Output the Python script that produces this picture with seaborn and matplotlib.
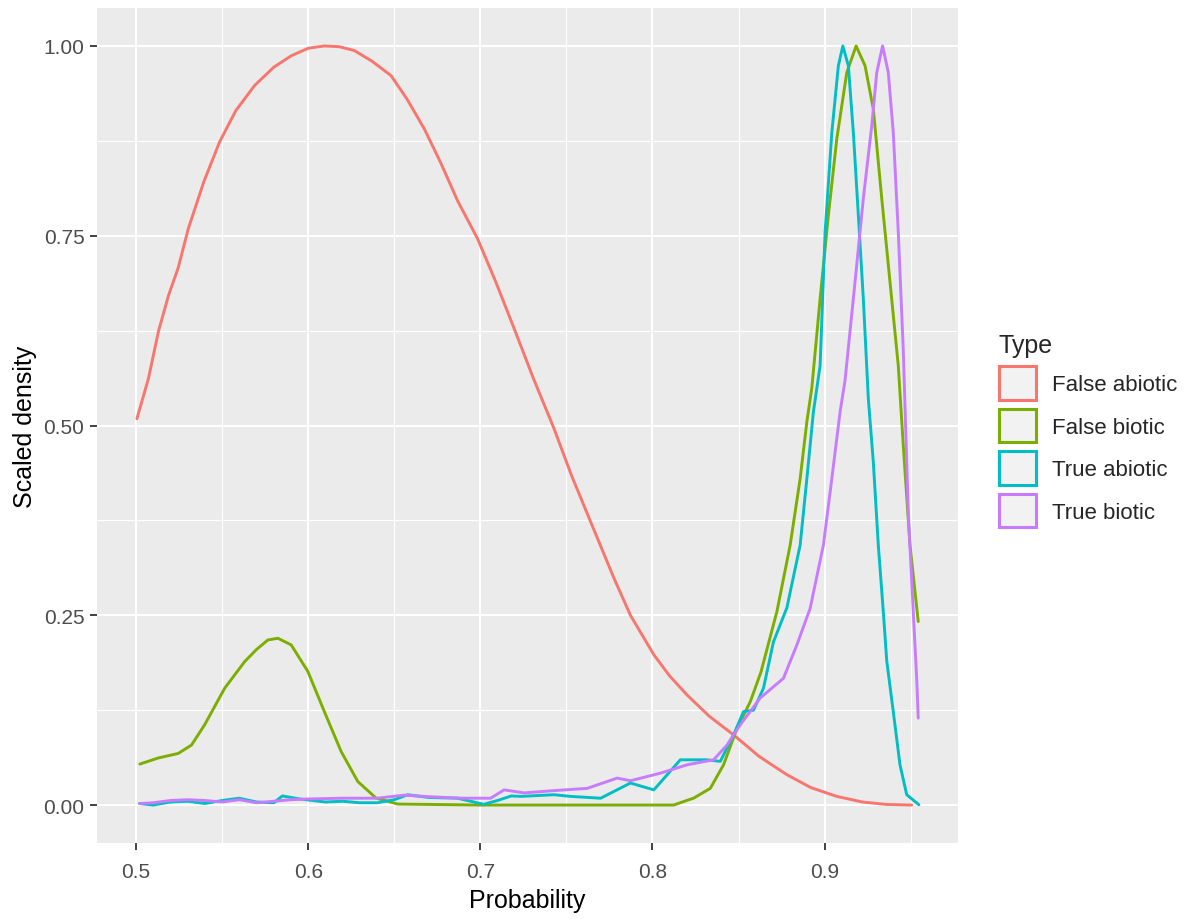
import pandas as pd
import matplotlib.pyplot as plt
import seaborn as sns
from matplotlib.patches import Patch
from matplotlib.ticker import MultipleLocator

# ── Data ─────────────────────────────────────────────────────────────────────
types = ["False abiotic", "False biotic", "True abiotic", "True biotic"]
colors = ["#F8766D", "#7CAE00", "#00BFC4", "#C77CFF"]

false_abiotic_x = [0.5005, 0.5072, 0.513, 0.5188, 0.5245, 0.5303, 0.5395, 0.5486,
                   0.5580, 0.5689, 0.5800, 0.5901, 0.6000, 0.6094, 0.6180, 0.6268,
                   0.6370, 0.6481, 0.6574, 0.6674, 0.6770, 0.6868, 0.6984, 0.7090,
                   0.7196, 0.7310, 0.7428, 0.7530, 0.7641, 0.7776, 0.7872, 0.8008,
                   0.8100, 0.8201, 0.8330, 0.8471, 0.8620, 0.8781, 0.8920, 0.9071,
                   0.9220, 0.9361, 0.9506]
false_abiotic_y = [0.509, 0.562, 0.624, 0.671, 0.708, 0.759, 0.822, 0.874,
                   0.915, 0.948, 0.972, 0.987, 0.997, 1.000, 0.999, 0.994,
                   0.980, 0.961, 0.930, 0.891, 0.846, 0.796, 0.746, 0.689,
                   0.628, 0.561, 0.496, 0.434, 0.373, 0.299, 0.250, 0.198,
                   0.170, 0.145, 0.117, 0.0925, 0.064, 0.040, 0.023, 0.0114,
                   0.004, 0.0008, 0.0]

false_biotic_x = [0.5022, 0.5129, 0.5245, 0.5322, 0.5399, 0.5515, 0.5631, 0.5700,
                  0.5766, 0.5824, 0.5901, 0.5998, 0.6094, 0.6191, 0.6288, 0.6394,
                  0.6520, 0.7000, 0.7600, 0.8123, 0.8240, 0.8336, 0.8413, 0.8491,
                  0.8568, 0.8630, 0.8723, 0.8800, 0.8858, 0.8897, 0.8926, 0.8974,
                  0.9022, 0.9071, 0.9129, 0.9183, 0.9235, 0.9283, 0.9332, 0.9380,
                  0.9428, 0.9457, 0.9496, 0.9544]
false_biotic_y = [0.054, 0.062, 0.068, 0.079, 0.106, 0.154, 0.189, 0.205,
                  0.2175, 0.2197, 0.211, 0.176, 0.123, 0.0707, 0.031, 0.0092,
                  0.0013, 0.0, 0.0, 0.0, 0.0092, 0.022, 0.053, 0.101,
                  0.136, 0.175, 0.255, 0.3425, 0.430, 0.505, 0.550, 0.667,
                  0.777, 0.878, 0.965, 1.000, 0.974, 0.917, 0.799, 0.689,
                  0.579, 0.474, 0.3425, 0.2417]

true_abiotic_x = [0.5020, 0.5100, 0.5200, 0.5300, 0.5400, 0.5500, 0.5600, 0.5700,
                  0.5800, 0.5850, 0.5950, 0.6100, 0.6200, 0.6300, 0.6400, 0.6500,
                  0.6578, 0.6700, 0.6868, 0.7020, 0.7100, 0.7180, 0.7235, 0.7428,
                  0.7525, 0.7699, 0.7872, 0.8008, 0.8162, 0.8317, 0.8394, 0.8471,
                  0.8529, 0.8587, 0.8645, 0.8703, 0.8781, 0.8858, 0.8897, 0.8935,
                  0.8974, 0.9003, 0.9042, 0.9080, 0.9106, 0.9138, 0.9167, 0.9196,
                  0.9225, 0.9254, 0.9283, 0.9312, 0.9341, 0.9361, 0.9399, 0.9438,
                  0.9477, 0.9548]
true_abiotic_y = [0.002, 0.000, 0.004, 0.005, 0.002, 0.006, 0.009, 0.004,
                  0.003, 0.012, 0.008, 0.004, 0.005, 0.003, 0.003, 0.007,
                  0.0136, 0.010, 0.009, 0.001, 0.006, 0.012, 0.0114, 0.0136,
                  0.0114, 0.009, 0.029, 0.020, 0.0596, 0.0596, 0.0575, 0.0925,
                  0.123, 0.125, 0.154, 0.215, 0.260, 0.3425, 0.430, 0.518,
                  0.579, 0.755, 0.886, 0.974, 1.000, 0.974, 0.886, 0.777,
                  0.667, 0.5355, 0.452, 0.3425, 0.255, 0.190, 0.123, 0.053,
                  0.0136, 0.0004]

true_biotic_x = [0.5020, 0.5100, 0.5200, 0.5300, 0.5400, 0.5500, 0.5600, 0.5700,
                 0.5800, 0.5900, 0.6000, 0.6200, 0.6400, 0.6557, 0.6700, 0.6900,
                 0.7060, 0.7138, 0.7254, 0.7428, 0.7621, 0.7795, 0.7872, 0.8046,
                 0.8201, 0.8355, 0.8433, 0.8510, 0.8626, 0.8761, 0.8839, 0.8916,
                 0.8993, 0.9042, 0.9090, 0.9119, 0.9167, 0.9225, 0.9274, 0.9303,
                 0.9337, 0.9370, 0.9399, 0.9428, 0.9457, 0.9486, 0.9515, 0.9535,
                 0.9544]
true_biotic_y = [0.002, 0.003, 0.006, 0.007, 0.006, 0.004, 0.007, 0.003,
                 0.005, 0.007, 0.008, 0.009, 0.009, 0.013, 0.011, 0.009,
                 0.009, 0.020, 0.016, 0.019, 0.022, 0.0355, 0.032, 0.042,
                 0.053, 0.0596, 0.079, 0.1057, 0.141, 0.167, 0.211, 0.259,
                 0.3425, 0.430, 0.518, 0.560, 0.667, 0.799, 0.895, 0.965,
                 1.000, 0.965, 0.886, 0.755, 0.600, 0.386, 0.255, 0.167,
                 0.1145]

series = {
    "False abiotic": (false_abiotic_x, false_abiotic_y),
    "False biotic": (false_biotic_x, false_biotic_y),
    "True abiotic": (true_abiotic_x, true_abiotic_y),
    "True biotic": (true_biotic_x, true_biotic_y),
}
df = pd.concat(
    [pd.DataFrame({"Probability": xs, "Scaled density": ys, "Type": name})
     for name, (xs, ys) in series.items()],
    ignore_index=True,
)
palette = dict(zip(types, colors))

# ── Style: ggplot2 theme_grey look ───────────────────────────────────────────
sns.set_theme(style="darkgrid", rc={
    "axes.facecolor": "#EBEBEB",
    "grid.color": "white",
    "axes.edgecolor": "#EBEBEB",
})
plt.rcParams["font.family"] = ["Liberation Sans", "DejaVu Sans"]

fig = plt.figure(figsize=(11.91, 9.2), dpi=100)
ax = fig.add_axes([97 / 1191, 1 - 844 / 920, (958 - 97) / 1191, (844 - 9) / 920])

sns.lineplot(data=df, x="Probability", y="Scaled density", hue="Type",
             hue_order=types, palette=palette, sort=False, estimator=None,
             linewidth=2.1, legend=False, ax=ax)

ax.set_xlim(0.4773, 0.9775)
ax.set_ylim(-0.05, 1.05)
ax.xaxis.set_major_locator(MultipleLocator(0.1))
ax.xaxis.set_minor_locator(MultipleLocator(0.05))
ax.yaxis.set_major_locator(MultipleLocator(0.25))
ax.yaxis.set_minor_locator(MultipleLocator(0.125))
ax.set_xticks([0.5, 0.6, 0.7, 0.8, 0.9])
ax.set_xticklabels(["0.5", "0.6", "0.7", "0.8", "0.9"])
ax.set_yticks([0.0, 0.25, 0.5, 0.75, 1.0])
ax.set_yticklabels(["0.00", "0.25", "0.50", "0.75", "1.00"])
ax.grid(which="major", color="white", linewidth=1.5)
ax.grid(which="minor", color="white", linewidth=0.8)
ax.tick_params(which="major", length=5, width=1.3, color="#333333",
               labelcolor="#4D4D4D", labelsize=15, pad=4,
               bottom=True, left=True)
ax.tick_params(axis="x", which="major", pad=8.5)
ax.tick_params(which="minor", length=0)
for sp in ax.spines.values():
    sp.set_visible(False)

ax.set_xlabel("Probability", fontsize=18, color="black", labelpad=5)
ax.set_ylabel("Scaled density", fontsize=18, color="black", labelpad=4.5)

# legend keys drawn as ggplot-style outlined squares
handles = [Patch(facecolor="#F2F2F2", edgecolor=c, linewidth=2.2, label=t)
           for t, c in zip(types, colors)]
leg = fig.legend(handles=handles, title="Type", loc="center left",
                 bbox_to_anchor=(0.831, 0.531), frameon=False,
                 fontsize=16, title_fontsize=18, handlelength=1.7,
                 handleheight=1.95, handletextpad=0.72, labelspacing=0.4,
                 alignment="left", borderaxespad=0)

fig.savefig("out.png", dpi=100)
